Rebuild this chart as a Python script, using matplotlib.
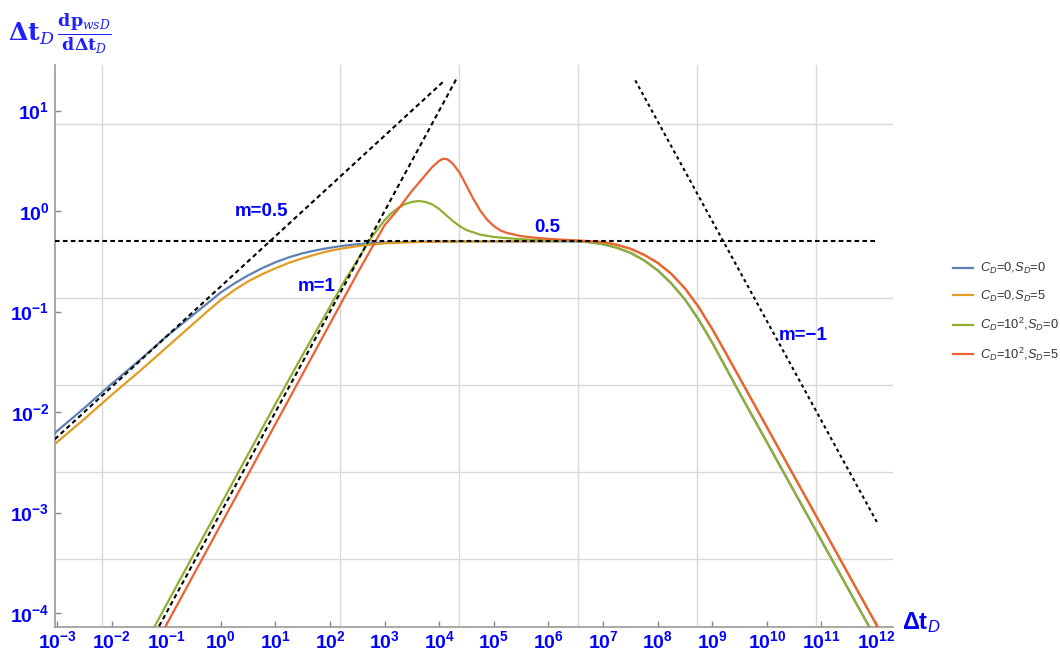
import numpy as np
import matplotlib
matplotlib.use("Agg")
import matplotlib.pyplot as plt
from matplotlib.ticker import NullFormatter

plt.rcParams['mathtext.fontset'] = 'custom'
plt.rcParams['mathtext.rm'] = 'Liberation Sans'
plt.rcParams['mathtext.bf'] = 'Liberation Sans:bold'
plt.rcParams['mathtext.it'] = 'Liberation Sans:italic'
plt.rcParams['font.family'] = ['Liberation Sans', 'DejaVu Sans']

# ---------------- data (log10 exponents) ----------------
series_labels = [r'$C_D$=0,$S_D$=0', r'$C_D$=0,$S_D$=5',
                 r'$C_D$=10$^2$,$S_D$=0', r'$C_D$=10$^2$,$S_D$=5']
series_colors = ['#5E81B5', '#E19C24', '#8FB032', '#EB6235']

blue_x = [-3.04, -3, -2.5, -2, -1.5, -1, -0.75, -0.5, -0.25, 0, 0.25, 0.5, 0.75, 1, 1.25, 1.5, 1.75,
          2, 2.25, 2.5, 2.75, 3, 3.5, 4, 5, 6, 6.5, 6.75, 7.0, 7.25, 7.5, 7.75, 8.0, 8.25, 8.5, 8.75,
          9.0, 9.25, 9.5, 10, 10.5, 11, 11.5, 12, 12.3]
blue_y = [-2.21, -2.19, -1.96, -1.72, -1.49, -1.25, -1.14, -1.03, -0.92, -0.81, -0.72, -0.64, -0.57,
          -0.51, -0.46, -0.42, -0.39, -0.365, -0.345, -0.33, -0.32, -0.313, -0.306, -0.303, -0.302,
          -0.302, -0.303, -0.31, -0.33, -0.365, -0.415, -0.49, -0.59, -0.72, -0.88, -1.08,
          -1.31, -1.56, -1.81, -2.30, -2.79, -3.28, -3.77, -4.26, -4.55]

orange_x = [-3.04, -3, -2.5, -2, -1.5, -1, -0.75, -0.5, -0.25, 0, 0.25, 0.5, 0.75, 1, 1.25, 1.5, 1.75,
            2, 2.25, 2.5, 2.75, 3, 3.5, 4, 5, 6, 6.5, 6.75, 7.0, 7.25, 7.5, 7.75, 8.0, 8.25, 8.5, 8.75,
            9.0, 9.25, 9.5, 10, 10.5, 11, 11.5, 12, 12.3]
orange_y = [-2.32, -2.30, -2.07, -1.83, -1.60, -1.36, -1.24, -1.12, -1.00, -0.885, -0.785, -0.70,
            -0.63, -0.57, -0.515, -0.47, -0.43, -0.395, -0.37, -0.35, -0.335, -0.322, -0.31, -0.304,
            -0.302, -0.300, -0.295, -0.30, -0.31, -0.335, -0.375, -0.435, -0.515, -0.625, -0.77, -0.955,
            -1.175, -1.415, -1.66, -2.15, -2.64, -3.13, -3.62, -4.11, -4.40]

green_x = [-1.5, -1, 0, 1, 1.5, 1.75, 2.0, 2.25, 2.5, 2.75, 3.0, 3.125, 3.25, 3.375, 3.5, 3.625, 3.75,
           3.875, 4.0, 4.125, 4.25, 4.375, 4.5, 4.75, 5.0, 5.25, 5.5, 6.0, 6.5, 6.75, 7.0, 7.25, 7.5,
           7.75, 8.0, 8.25, 8.5, 8.75, 9.0, 9.25, 9.5, 10, 10.5, 11, 11.5, 12, 12.3]
green_y = [-4.42, -3.92, -2.92, -1.92, -1.43, -1.19, -0.95, -0.71, -0.49, -0.27, -0.09, -0.02, 0.03,
           0.07, 0.09, 0.10, 0.09, 0.065, 0.02, -0.04, -0.10, -0.15, -0.19, -0.235, -0.258, -0.27,
           -0.28, -0.293, -0.30, -0.31, -0.33, -0.365, -0.415, -0.49, -0.59, -0.72, -0.88, -1.08,
           -1.31, -1.56, -1.81, -2.30, -2.79, -3.28, -3.77, -4.26, -4.55]

red_x = [-1.5, -1, 0, 1, 2, 2.5, 2.75, 3.0, 3.125, 3.25, 3.375, 3.5, 3.625, 3.75, 3.875, 4.0, 4.07,
         4.15, 4.25, 4.375, 4.5, 4.625, 4.75, 4.875, 5.0, 5.125, 5.25, 5.5, 5.75, 6.0, 6.5, 6.75, 7.0,
         7.25, 7.5, 7.75, 8.0, 8.25, 8.5, 8.75, 9.0, 9.25, 9.5, 10, 10.5, 11, 11.5, 12, 12.3]
red_y = [-4.62, -4.12, -3.12, -2.12, -1.12, -0.62, -0.38, -0.14, -0.06, 0.02, 0.11, 0.20, 0.28, 0.36,
         0.44, 0.50, 0.52, 0.515, 0.47, 0.38, 0.25, 0.12, 0.005, -0.085, -0.15, -0.195, -0.22, -0.25,
         -0.265, -0.277, -0.293, -0.30, -0.31, -0.335, -0.375, -0.435, -0.515, -0.625, -0.77, -0.955,
         -1.175, -1.415, -1.66, -2.15, -2.64, -3.13, -3.62, -4.11, -4.40]

# reference (dashed) lines: endpoints as log10 exponents
half_x = [-3.04, 12.0]
half_y = [np.log10(0.5), np.log10(0.5)]
m05_x = [-3.04, 4.1]
m05_y = [-2.27, 1.30]
m1_x = [-1.2, 4.31]
m1_y = [-4.2, 1.31]
mneg1_x = [7.59, 12.04]
mneg1_y = [1.30, -3.12]

x_tick_exps = list(range(-3, 13))
y_tick_exps = list(range(-4, 2))
x_grid_exps = [-2.18, 0.0, 2.18, 4.36, 6.54, 8.72, 10.9]
y_grid_exps = [0.866, 0.0, -0.866, -1.732, -2.598, -3.464]

annotations = [("m=0.5", 0.74, 0.0), ("m=1", 1.76, -0.753), ("0.5", 5.97, -0.163), ("m=\u22121", 10.67, -1.234)]

# ---------------- figure ----------------
fig = plt.figure(figsize=(10.6, 6.52), dpi=100)
ax = fig.add_axes([55 / 1060, (652 - 627) / 652, (893 - 55) / 1060, (627 - 65) / 652])
ax.set_xscale('log')
ax.set_yscale('log')
ax.set_xlim(10 ** -3.037, 10 ** 12.31)
ax.set_ylim(10 ** -4.139, 10 ** 1.453)

p = lambda a: 10 ** np.asarray(a, dtype=float)

for xs, ys, c, lab in zip([blue_x, orange_x, green_x, red_x], [blue_y, orange_y, green_y, red_y],
                          series_colors, series_labels):
    ax.plot(p(xs), p(ys), color=c, lw=1.6, label=lab, zorder=3, solid_joinstyle='round')

dash_kw = dict(color='black', lw=1.5, zorder=4)
ax.plot(p(half_x), p(half_y), dashes=(2.2, 1.6), **dash_kw)
ax.plot(p(m05_x), p(m05_y), dashes=(2.2, 1.6), **dash_kw)
ax.plot(p(m1_x), p(m1_y), dashes=(2.2, 1.6), **dash_kw)
ax.plot(p(mneg1_x), p(mneg1_y), dashes=(1.6, 1.6), **dash_kw)

for txt, lx, ly in annotations:
    ax.text(10 ** lx, 10 ** ly, txt, color='#0000ff', fontsize=13.5, fontweight='bold',
            ha='center', va='center', zorder=5)

# ticks
ax.set_xticks(p(x_tick_exps))
ax.set_xticklabels([r'$\mathbf{10^{%d}}$' % e for e in x_tick_exps])
ax.set_yticks(p(y_tick_exps))
ax.set_yticklabels([r'$\mathbf{10^{%d}}$' % e for e in y_tick_exps])
ax.set_xticks(p(x_grid_exps), minor=True)
ax.set_yticks(p(y_grid_exps), minor=True)
ax.xaxis.set_minor_formatter(NullFormatter())
ax.yaxis.set_minor_formatter(NullFormatter())
ax.tick_params(which='major', direction='in', length=4, width=1, color='#888888',
               labelcolor='#0000ff', labelsize=14)
ax.tick_params(axis='x', which='major', pad=2)
ax.tick_params(axis='y', which='major', pad=4)
ax.tick_params(which='minor', length=0)
ax.grid(which='minor', color='#d9d9d9', lw=1.0, zorder=0)
ax.grid(which='major', visible=False)
for s in ['top', 'right']:
    ax.spines[s].set_visible(False)
for s in ['left', 'bottom']:
    ax.spines[s].set_color('#999999')
    ax.spines[s].set_linewidth(1.2)

# axis labels
fig.text(902 / 1060, 1 - 623 / 652, r'$\mathbf{\Delta t}_{\mathit{D}}$', color='#0000ff',
         fontsize=17, ha='left', va='center')
fig.text(8 / 1060, 1 - 34 / 652,
         r'$\mathbf{\Delta t}_{D}\,\frac{\mathbf{dp}_{wsD}}{\mathbf{d\Delta t}_{D}}$',
         color='#2020ff', fontsize=18, ha='left', va='center', math_fontfamily='dejavuserif')

leg = ax.legend(loc='center left', bbox_to_anchor=(947 / 1060, 1 - 312 / 652),
                bbox_transform=fig.transFigure, frameon=False, fontsize=9.3,
                handlelength=1.5, handletextpad=0.55, labelspacing=0.95, borderpad=0)
for t in leg.get_texts():
    t.set_color('#333333')

fig.savefig('out.png', dpi=100)
